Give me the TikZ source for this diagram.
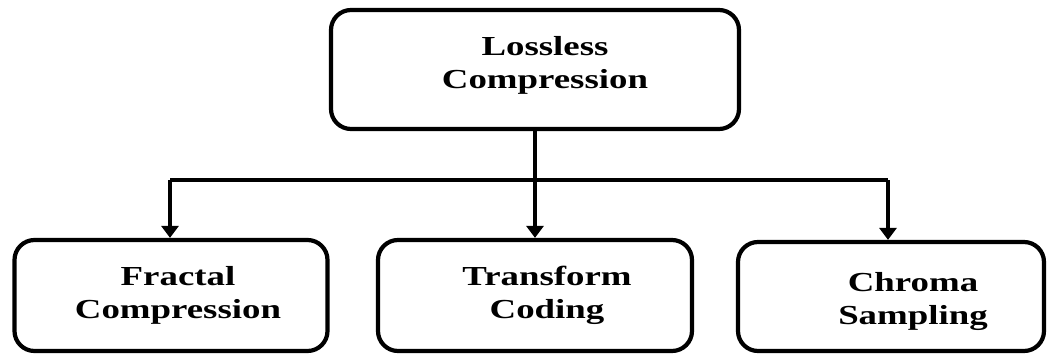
\documentclass[tikz,border=0pt]{standalone}
\usepackage{fontspec}
\setmainfont{Liberation Serif}[FakeStretch=1.34]
\usetikzlibrary{arrows.meta}
\begin{document}
\begin{tikzpicture}[x=1pt,y=1pt,
  box/.style={draw=black, line width=4.2pt, rounded corners=20pt, fill=white},
  lbl/.style={align=center, inner sep=0pt, font=\fontsize{27.5}{33}\selectfont\bfseries},
  conn/.style={line width=4.2pt},
  arr/.style={line width=4.2pt, -{Triangle[width=17pt,length=12pt]}}]
\useasboundingbox (0,0) rectangle (1047,357);
\node[box, minimum width=408pt, minimum height=119pt] (top) at (535,287.5) {};
\node[box, minimum width=313pt, minimum height=111pt] (left) at (171,61.5) {};
\node[box, minimum width=314pt, minimum height=111pt] (mid) at (535,61.5) {};
\node[box, minimum width=306pt, minimum height=109pt] (right) at (891,60.5) {};
\node[lbl] (ttop) at (545,292) {Lossless\\Compression};
\node[lbl] (tleft) at (178,62) {Fractal\\Compression};
\node[lbl] (tmid) at (547,62) {Transform\\Coding};
\node[lbl] (tright) at (913,56) {Chroma\\Sampling};
\coordinate (jl) at (170,177);
\coordinate (jr) at (888,177);
\draw[conn] (jl) -- (jr);
\draw[arr] (top.south) -- (mid.north);
\draw[arr] (jl) -- (jl |- left.north);
\draw[arr] (jr) -- (jr |- right.north);
\end{tikzpicture}
\end{document}
